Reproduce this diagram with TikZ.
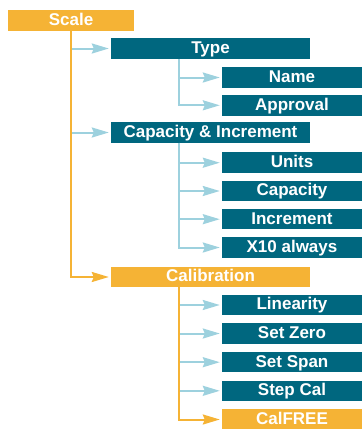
\documentclass[tikz,border=0pt]{standalone}
\usepackage{fontspec}
\setmainfont{Liberation Sans}
\usetikzlibrary{arrows.meta}

\definecolor{menuorange}{HTML}{F5B335}
\definecolor{menuteal}{HTML}{00677F}
\definecolor{menublue}{HTML}{9DD1DE}

\begin{document}
\begin{tikzpicture}[x=1pt,y=-1pt,
  box/.style={inner sep=0pt, minimum height=20.5pt, text=white,
    text height=13pt, text depth=3.4pt,
    font=\bfseries\fontsize{17pt}{17pt}\selectfont},
  orangebox/.style={box, fill=menuorange},
  tealbox/.style={box, fill=menuteal},
  midwide/.style={minimum width=199pt},
  leafwide/.style={minimum width=140pt},
  tip/.style={-{Stealth[length=17pt,width=10pt,inset=2pt]}, shorten >=2pt},
  bluelink/.style={draw=menublue, line width=2pt},
  orangelink/.style={draw=menuorange, line width=2pt},
]
\useasboundingbox (0,0) rectangle (362,429);

% root
\node[orangebox, minimum width=126pt] (scale) at (71,20.3) {Scale};

% second level
\node[tealbox, midwide] (type) at (210.5,48.5) {Type};
\node[tealbox, midwide] (cap) at (210.5,132.5) {Capacity \& Increment};
\node[orangebox, midwide] (calib) at (210.5,277) {Calibration};

% leaves
\node[tealbox, leafwide] (name) at (292,77.5) {Name};
\node[tealbox, leafwide] (approval) at (292,105.3) {Approval};

\node[tealbox, leafwide] (units) at (292,162.7) {Units};
\node[tealbox, leafwide] (capacity) at (292,191) {Capacity};
\node[tealbox, leafwide] (increment) at (292,219.2) {Increment};
\node[tealbox, leafwide] (x10) at (292,247.5) {X10 always};

\node[tealbox, leafwide] (linearity) at (292,305) {Linearity};
\node[tealbox, leafwide] (setzero) at (292,333.5) {Set Zero};
\node[tealbox, leafwide] (setspan) at (292,362.2) {Set Span};
\node[tealbox, leafwide] (stepcal) at (292,390.8) {Step Cal};
\node[orangebox, leafwide] (calfree) at (292,419.5) {CalFREE};

% trunk points under the second-level boxes
\coordinate (typetrunk) at ([xshift=68pt]type.south west);
\coordinate (captrunk) at ([xshift=68pt]cap.south west);
\coordinate (calibtrunk) at ([xshift=68pt]calib.south west);

% Scale branch
\draw[bluelink, tip] (scale.south |- type.west) -- (type.west);
\draw[bluelink, tip] (scale.south |- cap.west) -- (cap.west);
\draw[orangelink, tip] (scale.south) |- (calib.west);

% Type branch
\draw[bluelink, tip] (typetrunk) |- (name.west);
\draw[bluelink, tip] (typetrunk) |- (approval.west);

% Capacity & Increment branch
\foreach \leaf in {units, capacity, increment, x10}
  \draw[bluelink, tip] (captrunk) |- (\leaf.west);

% Calibration branch
\foreach \leaf in {linearity, setzero, setspan, stepcal}
  \draw[bluelink, tip] (calibtrunk |- \leaf.west) -- (\leaf.west);
\draw[orangelink, tip] (calibtrunk) |- (calfree.west);
\end{tikzpicture}
\end{document}
